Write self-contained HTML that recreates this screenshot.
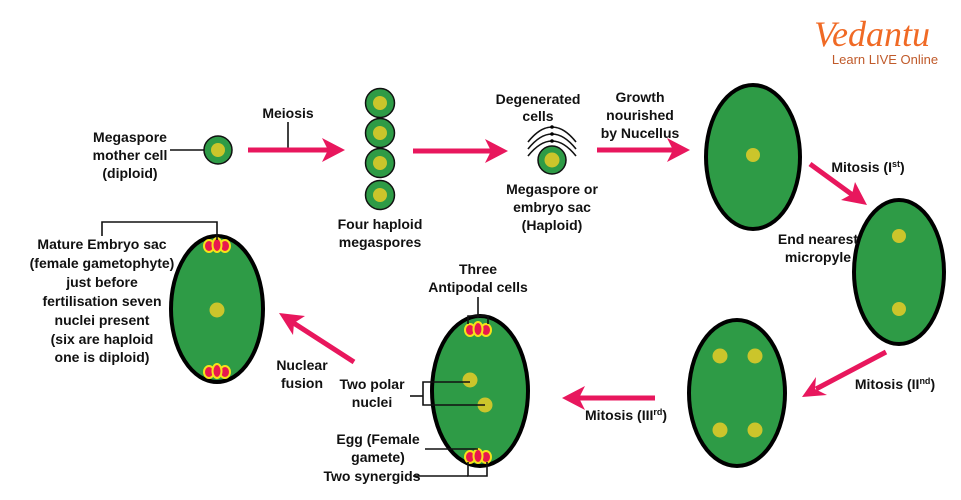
<!DOCTYPE html>
<html><head><meta charset="utf-8"><style>
html,body{margin:0;padding:0;background:#fff}
svg{display:block}
text{font-family:"Liberation Sans",sans-serif;font-weight:bold;font-size:14px;fill:#111;text-anchor:middle}
.e{fill:#2e9b46;stroke:#000;stroke-width:4}
.n{fill:#cbc52b}
.l{stroke:#111;stroke-width:1.6;fill:none}
.a{stroke:#e8175d;stroke-width:5;fill:none}
.h{fill:#e8175d}
.c{fill:#e8184f;stroke:#f5e21a;stroke-width:2}
</style></head><body>
<svg width="961" height="500" viewBox="0 0 961 500">
<defs>
<g id="cells"><ellipse class="c" cx="-8" cy="0" rx="5" ry="6"/><ellipse class="c" cx="8" cy="0" rx="5" ry="6"/><ellipse class="c" cx="0" cy="-1" rx="4.5" ry="7"/></g>
</defs>
<!-- logo -->
<text x="872" y="46" style="font-size:36px;fill:#f06a25;font-weight:normal;font-family:'Liberation Serif',serif;font-style:italic">Vedantu</text>
<text x="885" y="64" style="font-size:13px;fill:#c05a2a;font-weight:normal">Learn LIVE Online</text>

<!-- mother cell -->
<text x="130" y="142">Megaspore</text><text x="130" y="160">mother cell</text><text x="130" y="178">(diploid)</text>
<line class="l" x1="170" y1="150" x2="216" y2="150"/>
<circle cx="218" cy="150" r="14" fill="#2e9b46" stroke="#111" stroke-width="1.5"/><circle class="n" cx="218" cy="150" r="7"/>

<text x="288" y="118">Meiosis</text>
<line class="l" x1="288" y1="122" x2="288" y2="150"/>
<line class="a" x1="248" y1="150" x2="330" y2="150"/><polygon class="h" points="345,150 322,138 328,150 322,162"/>

<g fill="#2e9b46" stroke="#111" stroke-width="1.5">
<circle cx="380" cy="103" r="14.5"/><circle cx="380" cy="133" r="14.5"/><circle cx="380" cy="163" r="14.5"/><circle cx="380" cy="195" r="14.5"/></g>
<circle class="n" cx="380" cy="103" r="7"/><circle class="n" cx="380" cy="133" r="7"/><circle class="n" cx="380" cy="163" r="7"/><circle class="n" cx="380" cy="195" r="7"/>
<text x="380" y="229">Four haploid</text><text x="380" y="247">megaspores</text>

<line class="a" x1="413" y1="151" x2="493" y2="151"/><polygon class="h" points="508,151 485,139 491,151 485,163"/>

<text x="538" y="104">Degenerated</text><text x="538" y="121">cells</text>
<g class="l" stroke-width="2"><path d="M528,142 Q552,112 576,142"/><path d="M528,149 Q552,119 576,149"/><path d="M528,156 Q552,126 576,156"/></g>
<circle cx="552" cy="127" r="1.8"/><circle cx="552" cy="134" r="1.8"/><circle cx="552" cy="141" r="1.8"/>
<circle cx="552" cy="160" r="14" fill="#2e9b46" stroke="#111" stroke-width="1.5"/><circle class="n" cx="552" cy="160" r="7.5"/>
<text x="552" y="194">Megaspore or</text><text x="552" y="212">embryo sac</text><text x="552" y="230">(Haploid)</text>

<text x="640" y="102">Growth</text><text x="640" y="120">nourished</text><text x="640" y="138">by Nucellus</text>
<line class="a" x1="597" y1="150" x2="675" y2="150"/><polygon class="h" points="690,150 667,138 673,150 667,162"/>

<ellipse class="e" cx="753" cy="157" rx="47" ry="72"/><circle class="n" cx="753" cy="155" r="7"/>

<text x="868" y="172">Mitosis (I<tspan dy="-5" style="font-size:9px">st</tspan><tspan dy="5">)</tspan></text>
<line class="a" x1="810" y1="164" x2="854" y2="196"/><polygon class="h" points="867,205 841,200 852,194 855,182"/>

<ellipse class="e" cx="899" cy="272" rx="45" ry="72"/><circle class="n" cx="899" cy="236" r="7"/><circle class="n" cx="899" cy="309" r="7"/>
<text x="818" y="244">End nearest</text><text x="818" y="262">micropyle</text>

<line class="a" x1="886" y1="352" x2="816" y2="389"/><polygon class="h" points="802,397 816,377 815,389 827,395"/>
<text x="895" y="389">Mitosis (II<tspan dy="-5" style="font-size:9px">nd</tspan><tspan dy="5">)</tspan></text>

<ellipse class="e" cx="737" cy="393" rx="48" ry="73"/>
<circle class="n" cx="720" cy="356" r="7.5"/><circle class="n" cx="755" cy="356" r="7.5"/><circle class="n" cx="720" cy="430" r="7.5"/><circle class="n" cx="755" cy="430" r="7.5"/>

<line class="a" x1="655" y1="398" x2="577" y2="398"/><polygon class="h" points="562,398 585,386 579,398 585,410"/>
<text x="626" y="420">Mitosis (III<tspan dy="-5" style="font-size:9px">rd</tspan><tspan dy="5">)</tspan></text>

<ellipse class="e" cx="480" cy="391" rx="48" ry="75"/>
<circle class="n" cx="470" cy="380" r="7.5"/><circle class="n" cx="485" cy="405" r="7.5"/>
<use href="#cells" x="478" y="330"/><use href="#cells" x="478" y="457"/>
<text x="478" y="274">Three</text><text x="478" y="292">Antipodal cells</text>
<line class="l" x1="478" y1="297" x2="478" y2="318"/>
<polyline class="l" points="468,324 468,316 488,316 488,324"/>
<text x="372" y="389">Two polar</text><text x="372" y="407">nuclei</text>
<line class="l" x1="410" y1="396" x2="423" y2="396"/>
<polyline class="l" points="470,382 423,382 423,405 485,405"/>
<text x="378" y="444">Egg (Female</text><text x="378" y="462">gamete)</text>
<line class="l" x1="425" y1="449" x2="478" y2="449"/>
<text x="372" y="481">Two synergids</text>
<line class="l" x1="413" y1="476" x2="468" y2="476"/>
<polyline class="l" points="468,462 468,476 487,476 487,462"/>

<line class="a" x1="354" y1="362" x2="292" y2="322"/><polygon class="h" points="279,313 305,316 294,323 293,335"/>
<text x="302" y="370">Nuclear</text><text x="302" y="388">fusion</text>

<ellipse class="e" cx="217" cy="309" rx="46" ry="73"/><circle class="n" cx="217" cy="310" r="7.5"/>
<use href="#cells" x="217" y="246"/><use href="#cells" x="217" y="372"/>
<polyline class="l" points="102,236 102,222 217,222 217,240"/>
<text x="102" y="249">Mature Embryo sac</text><text x="102" y="268">(female gametophyte)</text><text x="102" y="287">just before</text><text x="102" y="306">fertilisation seven</text><text x="102" y="325">nuclei present</text><text x="102" y="344">(six are haploid</text><text x="102" y="362">one is diploid)</text>
</svg>
</body></html>
